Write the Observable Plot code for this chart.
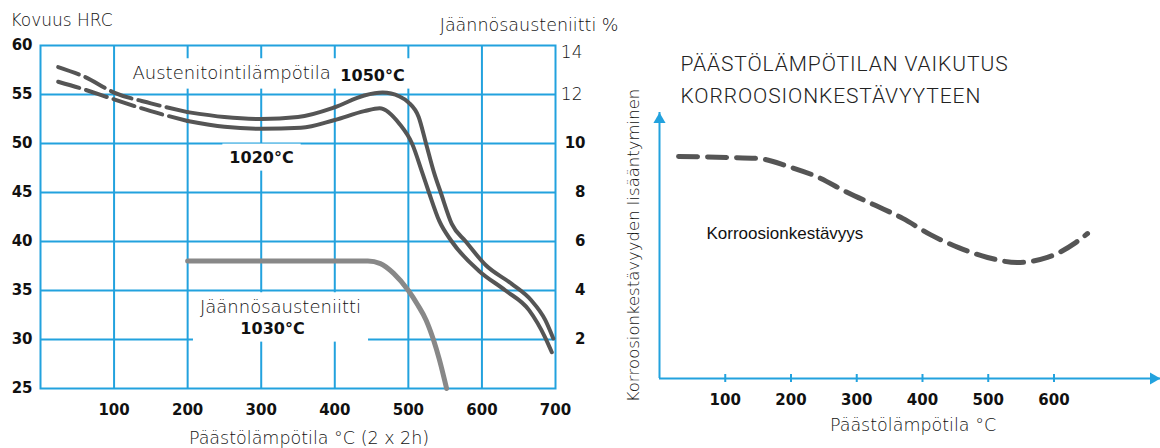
<!DOCTYPE html>
<html>
<head>
<meta charset="utf-8">
<script src="https://cdn.jsdelivr.net/npm/d3@7"></script>
<script src="https://cdn.jsdelivr.net/npm/@observablehq/plot@0.6"></script>
<style>
  html, body { margin: 0; padding: 0; background: #fff; }
  #chart { position: relative; width: 1160px; height: 448px; overflow: hidden; }
  #chart svg { position: absolute; top: 0; overflow: visible; }
</style>
</head>
<body>
<div id="chart"></div>
<script>
// Hardness (HRC) after tempering, austenitized at 1050 °C (dashed part = extrapolated)
const temper1050Dashed = [24, 60, 100, 150, 200];
const hrc1050Dashed = [57.8, 56.8, 55.2, 54.1, 53.2];
const temper1050 = [200, 250, 300, 350, 400, 440, 465, 488, 500, 514, 524, 535, 544, 559, 578, 605, 640, 667, 686, 697];
const hrc1050 = [53.2, 52.7, 52.5, 52.7, 53.7, 54.9, 55.2, 54.8, 54.2, 52.7, 50, 47, 45, 41.8, 40, 37.6, 35.7, 34, 32, 30.1];

// Hardness (HRC) after tempering, austenitized at 1020 °C
const temper1020Dashed = [24, 60, 100, 150, 200];
const hrc1020Dashed = [56.3, 55.5, 54.5, 53.3, 52.3];
const temper1020 = [200, 250, 300, 354, 400, 440, 461, 488, 505, 519, 528, 542, 559, 596, 632, 664, 686, 695];
const hrc1020 = [52.3, 51.7, 51.5, 51.6, 52.4, 53.3, 53.6, 52, 50, 47, 45, 42.1, 40, 37, 35, 33, 30.2, 28.7];

// Retained austenite (%) after austenitizing at 1030 °C
const temperRA = [200, 300, 400, 445, 462, 480, 500, 513, 524, 534, 542, 552];
const retainedAustenite = [5.2, 5.2, 5.2, 5.2, 5.1, 4.7, 4.0, 3.4, 2.8, 2.0, 1.2, 0];

// Relative corrosion resistance vs tempering temperature
const temperCorr = [29, 105, 151, 196, 242, 286, 329, 370, 412, 455, 499, 544, 590, 633, 651];
const corrosion = [83.5, 83.1, 82.7, 79.7, 75.6, 69.9, 65.0, 60.2, 54.1, 49.2, 45.5, 43.6, 45.5, 51.1, 54.5];

// Tick values
const hrcTicks = [25, 30, 35, 40, 45, 50, 55, 60];
const hrcGrid = [30, 35, 40, 45, 50, 55];
const pctTickTop = [14];
const pctTickLight = [12];
const pctTicksBold = [2, 4, 6, 8, 10];
const tempTicksLeft = [100, 200, 300, 400, 500, 600, 700];
const tempGrid = [100, 200, 300, 400, 500, 600];
const tempTicksRight = [100, 200, 300, 400, 500, 600];

// Right-hand % scale shares the HRC grid: 25 HRC = 0 %, 60 HRC = 14 %
const pctToHrc = p => 25 + p * 2.5;

const zip = (xs, ys) => xs.map((x, i) => ({x, y: ys[i]}));

const blue = "#22a2de";
const dark = "#555555";
const geo = "'DejaVu Sans', sans-serif";
const light = 300;
const heavy = 700;
const titleText = "PÄÄSTÖLÄMPÖTILAN VAIKUTUS\nKORROOSIONKESTÄVYYTEEN";

const root = document.getElementById("chart");

// ---------- Left panel: hardness and retained austenite ----------
const left = Plot.plot({
  width: 620,
  height: 448,
  marginLeft: 40,
  marginRight: 65,
  marginTop: 45,
  marginBottom: 60,
  x: {domain: [0, 700]},
  y: {domain: [25, 60]},
  style: {fontFamily: geo, fontSize: "16px", color: "#111", background: "transparent"},
  marks: [
    Plot.gridX({ticks: tempGrid, stroke: blue, strokeOpacity: 1, strokeWidth: 2}),
    Plot.gridY({ticks: hrcGrid, stroke: blue, strokeOpacity: 1, strokeWidth: 2}),
    Plot.frame({stroke: blue, strokeWidth: 2}),
    Plot.axisX({ticks: tempTicksLeft, tickSize: 0, tickPadding: 16, fontSize: 15, fontWeight: heavy, label: null}),
    Plot.axisY({ticks: hrcTicks, tickSize: 0, tickPadding: 8, fontSize: 15, fontWeight: heavy, label: null}),
    Plot.text(pctTickTop, {y: d => pctToHrc(d), text: d => String(d), frameAnchor: "right", dx: 27, dy: 7, textAnchor: "end", lineAnchor: "middle", fontSize: 17, fontWeight: light}),
    Plot.text(pctTickLight, {y: d => pctToHrc(d), text: d => String(d), frameAnchor: "right", dx: 27, textAnchor: "end", lineAnchor: "middle", fontSize: 17, fontWeight: light}),
    Plot.text(pctTicksBold, {y: d => pctToHrc(d), text: d => String(d), frameAnchor: "right", dx: 30, textAnchor: "end", lineAnchor: "middle", fontSize: 15, fontWeight: heavy}),
    // curves
    Plot.line(zip(temper1050Dashed, hrc1050Dashed), {x: "x", y: "y", stroke: dark, strokeWidth: 4, strokeDasharray: "22,7", curve: "monotone-x"}),
    Plot.line(zip(temper1020Dashed, hrc1020Dashed), {x: "x", y: "y", stroke: dark, strokeWidth: 4, strokeDasharray: "22,7", curve: "monotone-x"}),
    Plot.line(zip(temper1050, hrc1050), {x: "x", y: "y", stroke: dark, strokeWidth: 4, curve: "monotone-x"}),
    Plot.line(zip(temper1020, hrc1020), {x: "x", y: "y", stroke: dark, strokeWidth: 4, curve: "monotone-x"}),
    Plot.line(zip(temperRA, retainedAustenite), {x: "x", y: d => pctToHrc(d.y), stroke: "#888888", strokeWidth: 5, curve: "monotone-x"}),
    // annotations
    Plot.text(["Austenitointilämpötila"], {frameAnchor: "top-left", dx: 92, dy: 28, textAnchor: "start", lineAnchor: "middle", fontSize: 18, fontWeight: light}),
    Plot.text(["1050°C"], {frameAnchor: "top-left", dx: 332, dy: 30, textAnchor: "middle", lineAnchor: "middle", fontSize: 16, fontWeight: heavy}),
    Plot.text(["1020°C"], {frameAnchor: "top-left", dx: 221, dy: 112, textAnchor: "middle", lineAnchor: "middle", fontSize: 16, fontWeight: heavy}),
    Plot.text(["Jäännösausteniitti"], {frameAnchor: "top-left", dx: 240, dy: 262, textAnchor: "middle", lineAnchor: "middle", fontSize: 18, fontWeight: light}),
    Plot.text(["1030°C"], {frameAnchor: "top-left", dx: 232, dy: 283, textAnchor: "middle", lineAnchor: "middle", fontSize: 16, fontWeight: heavy}),
    // titles
    Plot.text(["Kovuus HRC"], {frameAnchor: "top-left", dx: -30, dy: -25, textAnchor: "start", lineAnchor: "middle", fontSize: 17, fontWeight: light}),
    Plot.text(["Jäännösausteniitti %"], {frameAnchor: "top-right", dx: 63, dy: -20, textAnchor: "end", lineAnchor: "middle", fontSize: 17.5, fontWeight: light}),
    Plot.text(["Päästölämpötila °C (2 x 2h)"], {frameAnchor: "bottom", dx: 11, dy: 50, textAnchor: "middle", lineAnchor: "middle", fontSize: 17.5, fontWeight: light})
  ]
});
left.style.left = "0px";
root.appendChild(left);

// White boxes behind in-chart labels, placed under the curves but over the grid
function addLabelBoxes(svg, groups, padX, padY) {
  const svgRect = svg.getBoundingClientRect();
  const texts = Array.from(svg.querySelectorAll("text"));
  const firstLine = svg.querySelector('g[aria-label="line"]');
  for (const group of groups) {
    const rects = group
      .map(s => texts.find(t => t.textContent === s))
      .filter(Boolean)
      .map(t => t.getBoundingClientRect());
    if (!rects.length) continue;
    const x0 = Math.min(...rects.map(r => r.left)) - svgRect.left - padX;
    const x1 = Math.max(...rects.map(r => r.right)) - svgRect.left + padX;
    const y0 = Math.min(...rects.map(r => r.top)) - svgRect.top - padY;
    const y1 = Math.max(...rects.map(r => r.bottom)) - svgRect.top + padY;
    const rect = document.createElementNS("http://www.w3.org/2000/svg", "rect");
    rect.setAttribute("x", x0);
    rect.setAttribute("y", y0);
    rect.setAttribute("width", x1 - x0);
    rect.setAttribute("height", y1 - y0);
    rect.setAttribute("fill", "#ffffff");
    firstLine.parentNode.insertBefore(rect, firstLine);
  }
}
addLabelBoxes(left, [["Austenitointilämpötila", "1050°C"], ["1020°C"], ["Jäännösausteniitti", "1030°C"]], 7, 4);

// ---------- Right panel: corrosion resistance ----------
const right = Plot.plot({
  width: 540,
  height: 448,
  marginLeft: 39,
  marginRight: 0,
  marginTop: 112,
  marginBottom: 70,
  x: {domain: [0, 762], axis: null},
  y: {domain: [0, 100], axis: null},
  style: {fontFamily: geo, fontSize: "16px", color: "#111", background: "transparent"},
  marks: [
    Plot.ruleY([0], {stroke: blue, strokeWidth: 2}),
    Plot.ruleX([0], {stroke: blue, strokeWidth: 2}),
    Plot.dot([0], {frameAnchor: "bottom-right", symbol: "triangle", r: 4.5, fill: blue, stroke: "none", rotate: 90, dx: -7}),
    Plot.dot([0], {frameAnchor: "top-left", symbol: "triangle", r: 4.5, fill: blue, stroke: "none", dy: 7}),
    Plot.ruleX(tempTicksRight, {y1: -1.5, y2: 1.5, stroke: blue, strokeWidth: 2}),
    Plot.axisX({ticks: tempTicksRight, tickSize: 0, tickPadding: 16, fontSize: 15, fontWeight: heavy, label: null}),
    Plot.line(zip(temperCorr, corrosion), {x: "x", y: "y", stroke: dark, strokeWidth: 5, strokeDasharray: "19,10", curve: "monotone-x"}),
    Plot.text(["Korroosionkestävyys"], {frameAnchor: "top-left", dx: 47, dy: 121, textAnchor: "start", lineAnchor: "middle", fontSize: 17, fontFamily: "'Liberation Sans', Arial, sans-serif"}),
    Plot.text([titleText], {frameAnchor: "top-left", dx: 21, dy: -36, lineAnchor: "middle", lineHeight: 1.52, textAnchor: "start", fontSize: 21, fontWeight: 300, fontFamily: "Roboto, 'Liberation Sans', sans-serif", fill: "#222"}),
    Plot.text(["Korroosionkestävyyden lisääntyminen"], {frameAnchor: "left", dx: -26, rotate: -90, textAnchor: "middle", lineAnchor: "middle", fontSize: 16.5, fontWeight: light}),
    Plot.text(["Päästölämpötila °C"], {frameAnchor: "bottom", dx: 3, dy: 47, textAnchor: "middle", lineAnchor: "middle", fontSize: 17.5, fontWeight: light})
  ]
});
right.style.left = "620px";
root.appendChild(right);

// Open up the light title face a little
for (const t of right.querySelectorAll("text")) {
  if (t.textContent.startsWith("PÄÄSTÖLÄMPÖTILAN")) t.style.letterSpacing = "0.9px";
}
</script>
</body>
</html>
